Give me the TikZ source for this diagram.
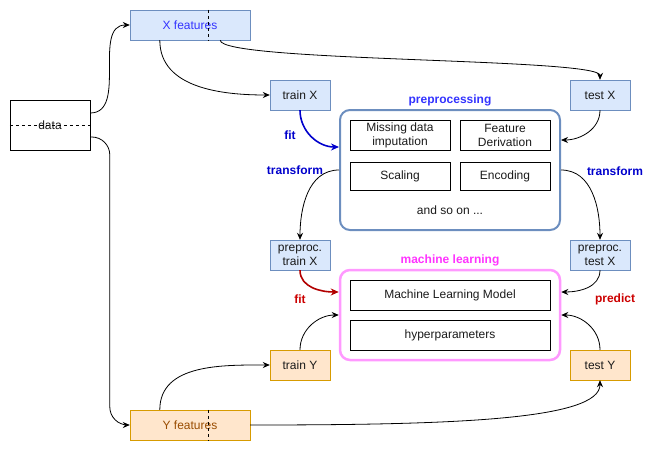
\documentclass[tikz,border=0pt]{standalone}
\usepackage{fontspec}
\setmainfont{Liberation Sans}
\usetikzlibrary{arrows.meta}

\definecolor{xfill}{HTML}{DAE8FC}
\definecolor{xline}{HTML}{6C8EBF}
\definecolor{yfill}{HTML}{FFE6CC}
\definecolor{yline}{HTML}{D79B00}
\definecolor{xtext}{HTML}{3333FF}
\definecolor{ytext}{HTML}{994C00}
\definecolor{fitblue}{HTML}{0000CC}
\definecolor{fitred}{HTML}{B20000}
\definecolor{labred}{HTML}{CC0000}
\definecolor{mlline}{HTML}{FF99FF}
\definecolor{mltext}{HTML}{FF33FF}
\definecolor{txt}{HTML}{1A1A1A}

\begin{document}
\begin{tikzpicture}[x=1pt, y=1pt,
  box/.style={draw, inner sep=0pt, align=center, text=txt,
    font=\fontsize{12}{14}\selectfont, minimum width=60pt, minimum height=30pt},
  xbox/.style={box, fill=xfill, draw=xline},
  ybox/.style={box, fill=yfill, draw=yline},
  group/.style={rounded corners=10pt, line width=2pt, minimum width=220pt, inner sep=0pt},
  tag/.style={font=\bfseries\fontsize{12}{14}\selectfont},
  link/.style={-{Stealth[length=7pt,width=6pt]}, line width=0.8pt}]

\def\width{661}
\def\height{452}

\path [use as bounding box] (0,0) rectangle (\width,-\height);

% DATA
\node [box, minimum width=80pt, minimum height=50pt] (data) at (50,-125) {data};
\draw [dashed] (data.west) -- (data.east);

\node [xbox, minimum width=120pt, text=xtext] (xfeat) at (190,-25) {X features};
\draw [dashed] ([xshift=18pt]xfeat.north) -- ([xshift=18pt]xfeat.south);
\node [ybox, minimum width=120pt, text=ytext] (yfeat) at (190,-425) {Y features};
\draw [dashed] ([xshift=18pt]yfeat.north) -- ([xshift=18pt]yfeat.south);

% SPLITS
\node [xbox] (trainx) at (300,-95) {train X};
\node [xbox] (testx) at (600,-95) {test X};
\node [xbox] (ptrainx) at (300,-255) {preproc.\\train X};
\node [xbox] (ptestx) at (600,-255) {preproc.\\test X};
\node [ybox] (trainy) at (300,-365) {train Y};
\node [ybox] (testy) at (600,-365) {test Y};

% PREPROCESSING
\node [group, draw=xline, minimum height=120pt] (prep) at (450,-170) {};
\node [tag, text=xtext] (prepname) at (450,-100) {preprocessing};
\node [box, minimum width=100pt] (missing) at (400,-135) {Missing data\\imputation};
\node [box, minimum width=90pt] (derive) at (505,-135) {Feature\\Derivation};
\node [box, minimum width=100pt, minimum height=28pt] (scaling) at (400,-176) {Scaling};
\node [box, minimum width=90pt, minimum height=28pt] (encoding) at (505,-176) {Encoding};
\node [box, draw=none] (more) at (450,-210) {and so on ...};

% MACHINE LEARNING
\node [group, draw=mlline, line width=2.5pt, minimum height=90pt] (ml) at (450,-315) {};
\node [tag, text=mltext] (mlname) at (450,-260) {machine learning};
\node [box, minimum width=200pt] (model) at (450,-295) {Machine Learning Model};
\node [box, minimum width=200pt] (hyper) at (450,-335) {hyperparameters};

% LINKS
\draw [link] ([yshift=12pt]data.east) to[out=0, in=180] (xfeat.west);
\draw [link, rounded corners=18pt] ([yshift=-12pt]data.east) -| ([xshift=-20pt]yfeat.west) -- (yfeat.west);
\draw [link] ([xshift=30pt]xfeat.south west) to[out=-90, in=180] (trainx.west);
\draw [link] ([xshift=-30pt]xfeat.south east) .. controls +(0,-22) and +(0,22) .. (testx.north);
\draw [link] ([xshift=30pt]yfeat.north west) to[out=90, in=180] (trainy.west);
\draw [link] (yfeat.east) .. controls +(200,0) and +(0,-40) .. (testy.south);

\draw [link, draw=fitblue, -{Stealth[length=8pt,width=7pt]}, line width=1.6pt, fitblue] (trainx.south) to[out=-90, in=180] ([yshift=23pt]prep.west);
\draw [link] (testx.south) to[out=-90, in=0] ([yshift=30pt]prep.east);
\draw [link] (prep.west) to[out=180, in=90] (ptrainx.north);
\draw [link] (prep.east) to[out=0, in=90] (ptestx.north);

\draw [link, -{Stealth[length=8pt,width=7pt]}, line width=1.6pt, fitred] (ptrainx.south) to[out=-90, in=180] ([yshift=23pt]ml.west);
\draw [link] (ptestx.south) to[out=-90, in=0] ([yshift=23pt]ml.east);
\draw [link] (trainy.north) to[out=90, in=180] (ml.west);
\draw [link] (testy.north) to[out=90, in=0] (ml.east);

% LABELS
\node [tag, text=fitblue] (fitx) at (290,-135) {fit};
\node [tag, text=fitblue] (tfleft) at (295,-170) {transform};
\node [tag, text=fitblue] (tfright) at (615,-171) {transform};
\node [tag, text=labred] (fity) at (300,-299) {fit};
\node [tag, text=labred] (predict) at (615,-299) {predict};

\end{tikzpicture}
\end{document}
